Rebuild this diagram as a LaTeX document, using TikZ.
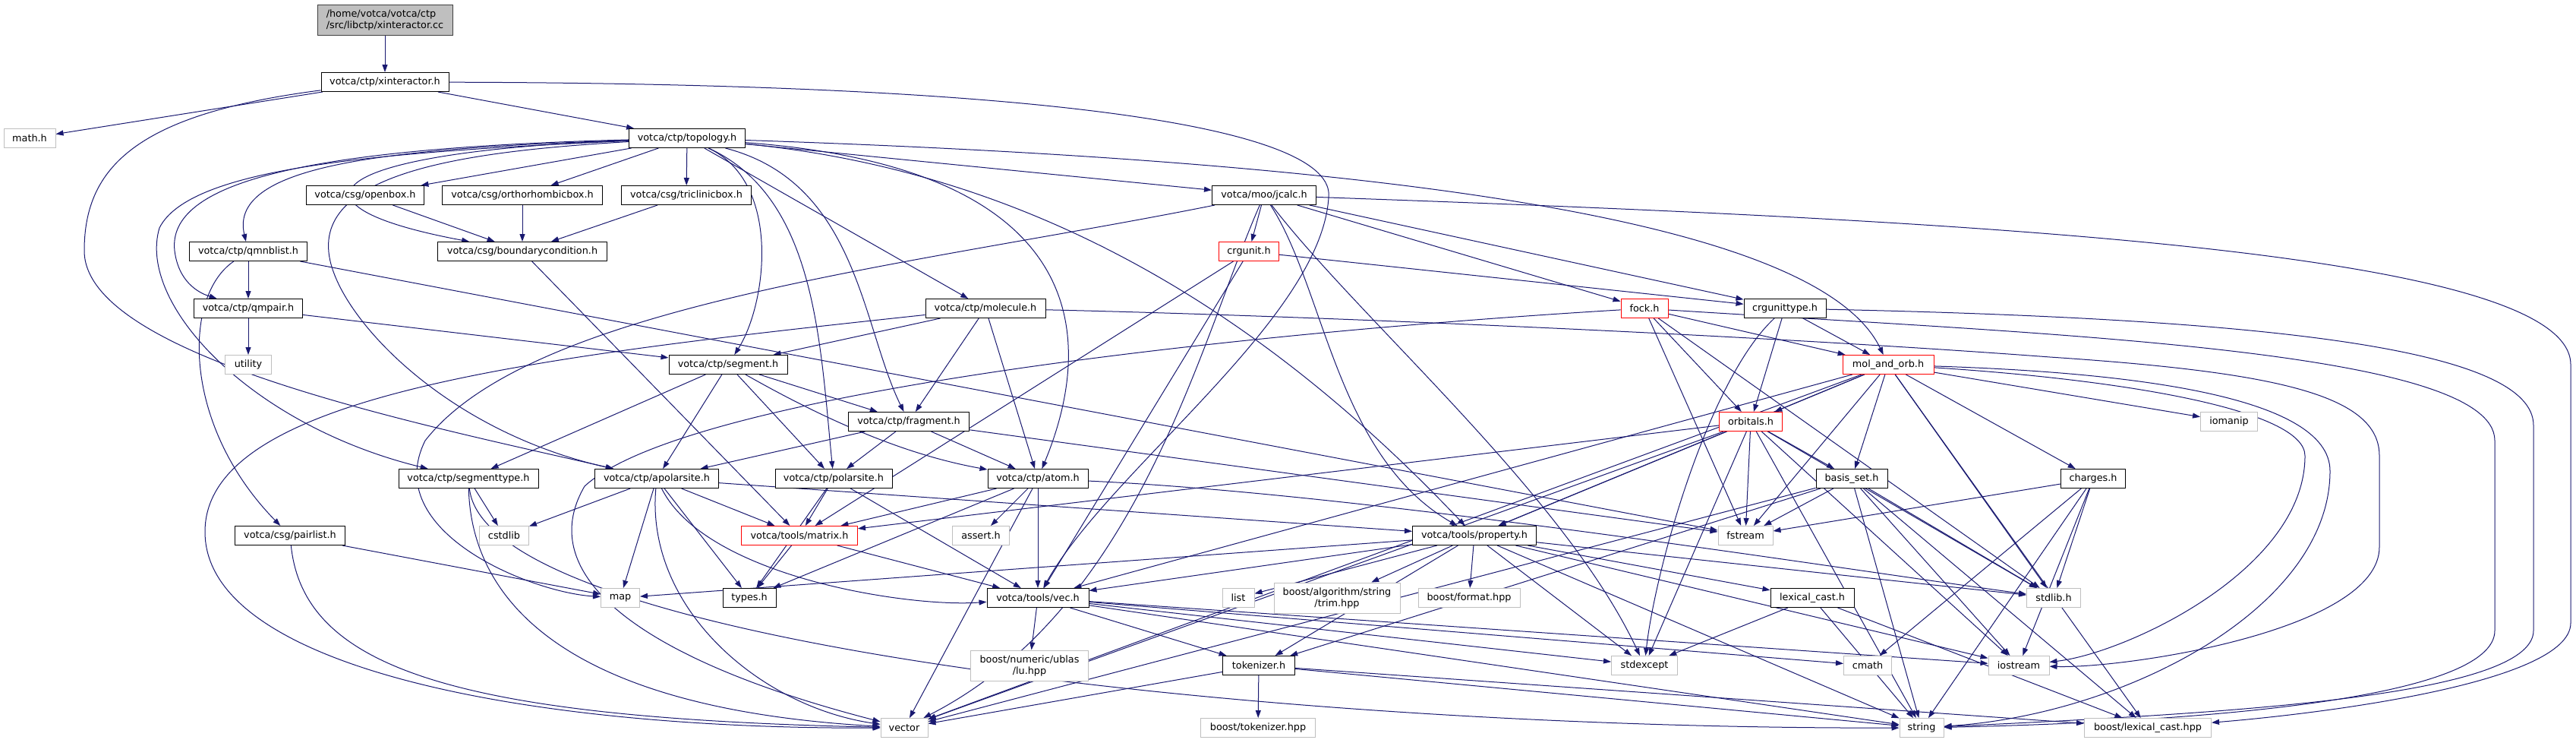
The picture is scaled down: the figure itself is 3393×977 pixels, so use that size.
\documentclass[tikz,border=0pt]{standalone}
\usepackage{fontspec}
\setmainfont{DejaVu Sans}
\usetikzlibrary{arrows.meta,backgrounds}
\definecolor{edgeblue}{HTML}{191970}
\definecolor{boxgray}{HTML}{BFBFBF}

\begin{document}
\begin{tikzpicture}[x=1pt, y=-1pt, >={Triangle[length=10pt,width=7pt]},
  every node/.style={font=\fontsize{12.8}{15}\selectfont, align=center, minimum height=25pt,
    inner xsep=5pt, inner ysep=2pt, fill=white, line width=1pt},
  file/.style={draw=black},
  redfile/.style={draw=red},
  sysfile/.style={draw=boxgray},
  rootfile/.style={draw=black!75, fill=boxgray},
  twoline/.style={minimum height=40pt},
  inc/.style={->, draw=edgeblue, line width=1pt}]
  \useasboundingbox (0,0) rectangle (3393,977);

  % files
  \node[rootfile, twoline, minimum width=178pt, align=left] (root) at (507,26) {/home/votca/votca/ctp\\/src/libctp/xinteractor.cc};
  \node[file, minimum width=168pt] (xint) at (507,108) {votca/ctp/xinteractor.h};
  \node[sysfile, minimum width=68pt] (math) at (39,182) {math.h};
  \node[file, minimum width=153pt] (topo) at (905,182) {votca/ctp/topology.h};
  \node[file, minimum width=155pt] (openbox) at (481,257) {votca/csg/openbox.h};
  \node[file, minimum width=211pt] (ortho) at (688,257) {votca/csg/orthorhombicbox.h};
  \node[file, minimum width=171pt] (triclinic) at (904,257) {votca/csg/triclinicbox.h};
  \node[file, minimum width=137pt] (jcalc) at (1665,257) {votca/moo/jcalc.h};
  \node[file, minimum width=155pt] (qmnblist) at (327,331) {votca/ctp/qmnblist.h};
  \node[file, minimum width=223pt] (bcond) at (688,331) {votca/csg/boundarycondition.h};
  \node[redfile, minimum width=79pt] (crgunit) at (1645,331) {crgunit.h};
  \node[file, minimum width=143pt] (qmpair) at (327,406) {votca/ctp/qmpair.h};
  \node[file, minimum width=158pt] (molecule) at (1298,406) {votca/ctp/molecule.h};
  \node[redfile, minimum width=62pt] (fock) at (2166,406) {fock.h};
  \node[file, minimum width=108pt] (crgunittype) at (2351,406) {crgunittype.h};
  \node[sysfile, minimum width=61pt] (utility) at (327,480) {utility};
  \node[file, minimum width=156pt] (segment) at (959,480) {votca/ctp/segment.h};
  \node[redfile, minimum width=120pt] (molorb) at (2487,480) {mol\_and\_orb.h};
  \node[file, minimum width=159pt] (fragment) at (1197,555) {votca/ctp/fragment.h};
  \node[redfile, minimum width=83pt] (orbitals) at (2306,555) {orbitals.h};
  \node[sysfile, minimum width=75pt] (iomanip) at (2936,555) {iomanip};
  \node[file, minimum width=184pt] (segtype) at (617,630) {votca/ctp/segmenttype.h};
  \node[file, minimum width=163pt] (apolar) at (865,630) {votca/ctp/apolarsite.h};
  \node[file, minimum width=154pt] (polar) at (1098,630) {votca/ctp/polarsite.h};
  \node[file, minimum width=132pt] (atom) at (1367,630) {votca/ctp/atom.h};
  \node[file, minimum width=94pt] (basis) at (2439,630) {basis\_set.h};
  \node[file, minimum width=85pt] (charges) at (2757,630) {charges.h};
  \node[file, minimum width=145pt] (pairlist) at (382,705) {votca/csg/pairlist.h};
  \node[sysfile, minimum width=65pt] (cstdlib) at (664,705) {cstdlib};
  \node[redfile, minimum width=153pt] (matrix) at (1053,705) {votca/tools/matrix.h};
  \node[sysfile, minimum width=75pt] (assert) at (1292,705) {assert.h};
  \node[file, minimum width=163pt] (property) at (1942,705) {votca/tools/property.h};
  \node[sysfile, minimum width=72pt] (fstream) at (2299,705) {fstream};
  \node[sysfile, minimum width=51pt] (map) at (817,787) {map};
  \node[file, minimum width=70pt] (types) at (987,787) {types.h};
  \node[file, minimum width=134pt] (vec) at (1367,787) {votca/tools/vec.h};
  \node[sysfile, minimum width=42pt] (list) at (1631,787) {list};
  \node[sysfile, twoline, minimum width=166pt] (trim) at (1761,787) {boost/algorithm/string\\/trim.hpp};
  \node[sysfile, minimum width=134pt] (format) at (1935,787) {boost/format.hpp};
  \node[file, minimum width=110pt] (lexcast) at (2387,787) {lexical\_cast.h};
  \node[sysfile, minimum width=71pt] (stdlib) at (2705,787) {stdlib.h};
  \node[sysfile, twoline, minimum width=155pt] (lu) at (1356,876) {boost/numeric/ublas\\/lu.hpp};
  \node[file, minimum width=95pt] (tokenizer) at (1658,876) {tokenizer.h};
  \node[sysfile, minimum width=87pt] (stdexcept) at (2166,876) {stdexcept};
  \node[sysfile, minimum width=63pt] (cmath) at (2460,876) {cmath};
  \node[sysfile, minimum width=80pt] (iostream) at (2659,876) {iostream};
  \node[sysfile, minimum width=62pt] (vector) at (1191,958) {vector};
  \node[sysfile, minimum width=151pt] (btokenizer) at (1657,958) {boost/tokenizer.hpp};
  \node[sysfile, minimum width=58pt] (string) at (2531,958) {string};
  \node[sysfile, minimum width=167pt] (blexcast) at (2829,958) {boost/lexical\_cast.hpp};

  \begin{pgfonlayer}{background}
  % straight includes
  \foreach \s/\t in {root/xint, xint/math, xint/topo,
      topo/openbox, topo/ortho, topo/triclinic, topo/jcalc, topo/molecule,
      openbox/bcond, ortho/bcond, triclinic/bcond, bcond/matrix,
      qmnblist/qmpair, qmnblist/fstream, qmpair/utility, qmpair/segment, pairlist/map,
      segment/segtype, segment/apolar, segment/polar, segment/fragment,
      molecule/segment, molecule/fragment, molecule/atom,
      fragment/apolar, fragment/polar, fragment/atom, fragment/fstream,
      segtype/cstdlib, apolar/cstdlib, apolar/map, apolar/types, apolar/matrix, apolar/property,
      polar/matrix, polar/types, polar/vec,
      atom/assert, atom/types, atom/matrix, atom/vec, atom/vector,
      matrix/types, matrix/vec,
      vec/lu, vec/tokenizer, vec/stdexcept, vec/cmath, vec/string, vec/iostream,
      tokenizer/btokenizer, tokenizer/vector, tokenizer/string, tokenizer/blexcast,
      property/list, property/trim, property/format, property/map, property/vec,
      property/tokenizer, property/lexcast, property/stdexcept, property/string,
      property/stdlib, property/iostream,
      lexcast/stdexcept, lexcast/string, lexcast/blexcast,
      jcalc/crgunit, jcalc/fock, jcalc/crgunittype,
      crgunit/crgunittype, crgunit/matrix, crgunit/vec,
      fock/molorb, fock/orbitals, fock/fstream, fock/stdlib,
      crgunittype/molorb, crgunittype/orbitals,
      molorb/orbitals, molorb/basis, molorb/charges, molorb/iomanip, molorb/fstream,
      molorb/stdlib, molorb/vector, molorb/property, molorb/vec, molorb/blexcast,
      orbitals/basis, orbitals/fstream, orbitals/stdlib, orbitals/string, orbitals/iostream,
      orbitals/vector, orbitals/matrix, orbitals/property, orbitals/stdexcept,
      basis/fstream, basis/tokenizer, basis/string, basis/iostream, basis/stdlib,
      basis/vector, basis/blexcast,
      charges/fstream, charges/stdlib, charges/iostream, charges/string, charges/cmath}
    \draw[inc] (\s) -- (\t);

  % curved includes
  \draw[inc] (xint) .. controls (180,150) and (111,220) .. (111,330) .. controls (111,470) and (560,560) .. (apolar);
  \draw[inc] (xint) .. controls (1400,110) and (1760,170) .. (1750,260) .. controls (1740,420) and (1460,620) .. (vec);
  \draw[inc] (topo) .. controls (500,200) and (250,220) .. (210,300) .. controls (180,400) and (330,560) .. (segtype);
  \draw[inc] (topo) .. controls (600,200) and (390,230) .. (440,360) .. controls (470,440) and (600,570) .. (apolar);
  \draw[inc] (topo) .. controls (520,195) and (300,215) .. (qmnblist);
  \draw[inc] (topo) .. controls (400,195) and (220,240) .. (230,330) .. controls (235,370) and (260,385) .. (qmpair);
  \draw[inc] (topo) .. controls (420,200) and (360,270) .. (bcond);
  \draw[inc] (topo) .. controls (1030,240) and (1010,400) .. (segment);
  \draw[inc] (topo) .. controls (1075,260) and (1080,450) .. (polar);
  \draw[inc] (topo) .. controls (1130,240) and (1135,430) .. (fragment);
  \draw[inc] (topo) .. controls (1420,220) and (1450,430) .. (atom);
  \draw[inc] (topo) .. controls (1400,230) and (1700,450) .. (property);
  \draw[inc] (topo) .. controls (1900,215) and (2400,300) .. (molorb);
  \draw[inc] (qmnblist) .. controls (240,390) and (240,560) .. (pairlist);
  \draw[inc] (pairlist) .. controls (400,880) and (600,945) .. (vector);
  \draw[inc] (segtype) .. controls (620,760) and (700,930) .. (vector);
  \draw[inc] (segtype) .. controls (640,850) and (1700,960) .. (string);
  \draw[inc] (segment) .. controls (1100,560) and (1200,600) .. (atom);
  \draw[inc] (apolar) .. controls (930,760) and (1200,800) .. (vec);
  \draw[inc] (apolar) .. controls (850,800) and (1000,930) .. (vector);
  \draw[inc] (atom) .. controls (1800,650) and (2400,745) .. (stdlib);
  \draw[inc] (molecule) .. controls (700,470) and (270,520) .. (270,700) .. controls (270,880) and (700,960) .. (vector);
  \draw[inc] (molecule) .. controls (1700,415) and (2300,440) .. (2700,470) .. controls (3000,490) and (3134,520) .. (3134,600) -- (3134,720) .. controls (3134,830) and (2800,880) .. (iostream);
  \draw[inc] (jcalc) .. controls (1200,350) and (700,400) .. (560,580) .. controls (500,700) and (700,780) .. (map);
  \draw[inc] (jcalc) .. controls (1580,450) and (1500,800) .. (vector);
  \draw[inc] (jcalc) .. controls (1745,380) and (1760,600) .. (property);
  \draw[inc] (jcalc) .. controls (1790,420) and (2060,650) .. (stdexcept);
  \draw[inc] (jcalc) .. controls (2600,290) and (3386,330) .. (3386,480) -- (3386,820) .. controls (3386,900) and (3050,940) .. (blexcast);
  \draw[inc] (fock) .. controls (1600,440) and (900,520) .. (770,640) .. controls (700,760) and (850,870) .. (vector);
  \draw[inc] (fock) .. controls (2700,440) and (3286,460) .. (3286,580) -- (3286,830) .. controls (3286,920) and (2900,950) .. (string);
  \draw[inc] (crgunittype) .. controls (3000,420) and (3337,460) .. (3337,560) -- (3337,830) .. controls (3337,920) and (2900,940) .. (string);
  \draw[inc] (crgunittype) .. controls (2250,500) and (2180,750) .. (stdexcept);
  \draw[inc] (molorb) .. controls (2800,490) and (3069,520) .. (3069,620) .. controls (3069,800) and (2800,940) .. (string);
  \draw[inc] (molorb) .. controls (2800,500) and (3036,540) .. (3036,600) .. controls (3036,750) and (2800,860) .. (iostream);
  \end{pgfonlayer}
\end{tikzpicture}
\end{document}
